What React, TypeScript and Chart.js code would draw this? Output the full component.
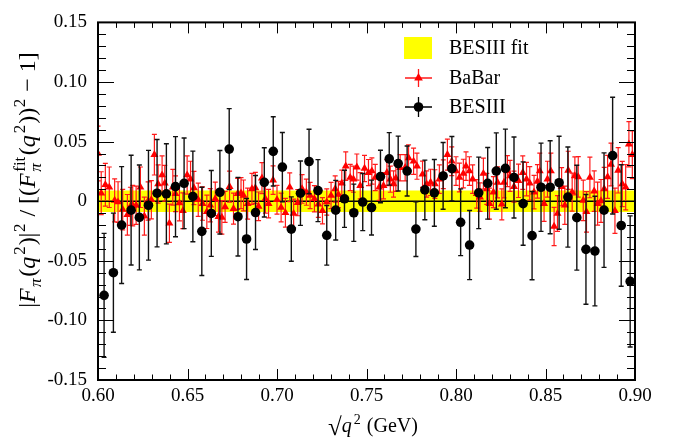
import React, { useEffect, useRef } from "react";
import { Chart, registerables } from "chart.js";

Chart.register(...registerables);

const SERIF = "'Liberation Serif', 'Times New Roman', serif";

// ---------- axis ----------
const xMin = 0.6;
const xMax = 0.9;
const yMin = -0.15;
const yMax = 0.15;
const xTickLabels = ["0.60", "0.65", "0.70", "0.75", "0.80", "0.85", "0.90"];
const yTickLabels = ["-0.15", "-0.10", "-0.05", "0", "0.05", "0.10", "0.15"];

// ---------- BESIII ----------
const besX = [
  0.6034, 0.6086, 0.6132, 0.6185, 0.6231, 0.6282, 0.633, 0.6382, 0.6433, 0.6481,
  0.653, 0.658, 0.6633, 0.6681, 0.6733, 0.6782, 0.683, 0.688, 0.6929, 0.6979,
  0.703, 0.708, 0.7131, 0.7179, 0.7229, 0.7278, 0.7328, 0.7377, 0.7429, 0.7479,
  0.7528, 0.7578, 0.7627, 0.7677, 0.7727, 0.7776, 0.7826, 0.7879, 0.7928, 0.7977,
  0.8026, 0.8076, 0.8127, 0.8177, 0.8225, 0.8276, 0.8324, 0.8375, 0.8425, 0.8475,
  0.8526, 0.8576, 0.8625, 0.8675, 0.8726, 0.8776, 0.8827, 0.8875, 0.8923, 0.8973,
];
const besY = [
  -0.079, -0.06, -0.02, -0.0075, -0.0136, -0.0034, 0.0067, 0.0062, 0.0122, 0.015,
  0.004, -0.0253, -0.0103, 0.0075, 0.0437, -0.013, -0.0317, -0.0095, 0.0158, 0.0418,
  0.0286, -0.0234, 0.0067, 0.0333, 0.0089, -0.0286, -0.0075, 0.002, -0.0097, -0.0007,
  -0.0053, 0.0207, 0.0355, 0.0316, 0.0253, -0.0234, 0.0095, 0.007, 0.0212, 0.0273,
  -0.0177, -0.0368, 0.007, 0.015, 0.0253, 0.0275, 0.0199, -0.002, -0.0289, 0.0117,
  0.0117, 0.0155, 0.0035, -0.0138, -0.0404, -0.0418, -0.0075, 0.0382, -0.0204, -0.0673,
];
const besErr = [
  0.052, 0.05, 0.049, 0.046, 0.044, 0.046, 0.045, 0.042, 0.042, 0.038,
  0.038, 0.037, 0.036, 0.035, 0.034, 0.033, 0.034, 0.031, 0.029, 0.029,
  0.029, 0.027, 0.027, 0.027, 0.026, 0.025, 0.025, 0.024, 0.024, 0.024,
  0.023, 0.022, 0.022, 0.023, 0.021, 0.023, 0.025, 0.028, 0.028, 0.027,
  0.028, 0.029, 0.03, 0.03, 0.032, 0.033, 0.034, 0.035, 0.037, 0.037,
  0.039, 0.039, 0.042, 0.044, 0.046, 0.046, 0.048, 0.049, 0.051, 0.055,
];

// ---------- BaBar ----------
const babarX = [
  0.6, 0.6018, 0.6041, 0.6063, 0.6093, 0.6112, 0.6138, 0.6164, 0.6181, 0.6194,
  0.6213, 0.6237, 0.6259, 0.628, 0.6298, 0.6315, 0.6336, 0.6358, 0.6373, 0.6399,
  0.6418, 0.6433, 0.6455, 0.6474, 0.6498, 0.6517, 0.6536, 0.656, 0.6584, 0.6608,
  0.6627, 0.6655, 0.6673, 0.6692, 0.671, 0.6735, 0.6757, 0.678, 0.6799, 0.6813,
  0.6836, 0.686, 0.6879, 0.6897, 0.6916, 0.6935, 0.6953, 0.6978, 0.7, 0.7023,
  0.7047, 0.7071, 0.7093, 0.7116, 0.714, 0.7164, 0.7185, 0.7209, 0.7231, 0.7254,
  0.7278, 0.7302, 0.7325, 0.7343, 0.7362, 0.7384, 0.7409, 0.7427, 0.7446, 0.7465,
  0.7489, 0.7511, 0.753, 0.7549, 0.7571, 0.7595, 0.7614, 0.7633, 0.7651, 0.7664,
  0.7688, 0.7716, 0.7735, 0.7763, 0.7782, 0.7813, 0.7836, 0.7858, 0.7882, 0.7907,
  0.7929, 0.7952, 0.7976, 0.8, 0.8019, 0.8041, 0.8056, 0.8075, 0.8093, 0.8116,
  0.8134, 0.8153, 0.8172, 0.8187, 0.8209, 0.8232, 0.8256, 0.8268, 0.8287, 0.8302,
  0.8324, 0.8349, 0.8373, 0.8394, 0.8412, 0.8436, 0.8455, 0.8468, 0.8492, 0.8511,
  0.853, 0.8548, 0.8567, 0.859, 0.8608, 0.8627, 0.8649, 0.8664, 0.8683, 0.8711,
  0.8729, 0.8748, 0.8772, 0.8791, 0.881, 0.8828, 0.8847, 0.8866, 0.8888, 0.8906,
  0.8929, 0.8948, 0.8966, 0.8985,
];
const babarY = [
  0.04, 0.0067, 0.0138, 0.0117, 0.0007, -0.0007, -0.007, -0.0114, -0.0043, -0.0037,
  -0.0034, 0.0117, -0.0125, 0.0002, 0.0012, 0.039, 0.0144, 0.022, 0.015, -0.0185,
  0.0117, 0.0062, -0.0015, -0.008, 0.022, 0.0185, 0.0111, 0.0012, -0.002, -0.0089,
  -0.0034, 0.002, -0.013, -0.0136, -0.0048, 0.0122, -0.0062, 0.0062, 0.0067, 0.0048,
  -0.002, 0.0103, 0.0111, -0.0043, 0.0193, 0.002, -0.002, 0.0177, 0.0012, -0.0053,
  -0.0097, 0.0117, -0.0103, -0.0012, 0.0103, 0.0076, 0.0048, 0.002, -0.0026, -0.008,
  -0.0007, 0.0048, 0.0103, 0.0056, 0.015, 0.0294, 0.0199, 0.0185, 0.0286, 0.013,
  0.0275, 0.024, 0.0253, 0.0199, 0.0117, 0.013, 0.024, 0.0185, 0.0144, 0.0193,
  0.0281, 0.0281, 0.0363, 0.0335, 0.0294, 0.0226, 0.0144, 0.0158, 0.0144, 0.0185,
  0.0226, 0.039, 0.0335, 0.0253, 0.0199, 0.0232, 0.0294, 0.0253, 0.0185, 0.0062,
  0.0034, 0.0232, 0.0103, -0.002, 0.0076, 0.0158, -0.0026, 0.0158, 0.0253, 0.0212,
  0.0122, 0.0171, 0.024, 0.0185, 0.015, 0.0076, 0.0166, 0.0253, -0.002, 0.0185,
  0.0253, -0.0212, -0.0103, 0.0122, -0.0034, 0.0259, 0.0076, 0.0212, 0.0204, 0.0007,
  -0.0089, 0.0199, 0.0084, -0.002, 0.0002, 0.0103, 0.0204, 0.0308, -0.008, 0.0259,
  0.0144, 0.0117, 0.0478, 0.039,
];
const babarErr = [
  0.023, 0.018, 0.018, 0.017, 0.018, 0.017, 0.017, 0.017, 0.016, 0.017,
  0.016, 0.017, 0.016, 0.016, 0.016, 0.017, 0.016, 0.016, 0.015, 0.016,
  0.015, 0.015, 0.015, 0.015, 0.016, 0.015, 0.014, 0.014, 0.014, 0.014,
  0.014, 0.014, 0.013, 0.014, 0.013, 0.013, 0.013, 0.013, 0.013, 0.013,
  0.013, 0.013, 0.013, 0.012, 0.013, 0.012, 0.012, 0.012, 0.012, 0.012,
  0.012, 0.012, 0.012, 0.011, 0.012, 0.011, 0.011, 0.011, 0.011, 0.011,
  0.011, 0.011, 0.011, 0.011, 0.011, 0.012, 0.011, 0.011, 0.011, 0.011,
  0.011, 0.011, 0.011, 0.011, 0.011, 0.011, 0.011, 0.011, 0.011, 0.011,
  0.011, 0.011, 0.011, 0.011, 0.011, 0.011, 0.011, 0.011, 0.012, 0.012,
  0.012, 0.013, 0.012, 0.012, 0.012, 0.012, 0.012, 0.012, 0.012, 0.012,
  0.012, 0.013, 0.013, 0.013, 0.013, 0.013, 0.013, 0.013, 0.013, 0.013,
  0.013, 0.014, 0.014, 0.014, 0.014, 0.014, 0.014, 0.015, 0.015, 0.015,
  0.015, 0.016, 0.015, 0.016, 0.016, 0.016, 0.016, 0.016, 0.017, 0.017,
  0.017, 0.017, 0.017, 0.018, 0.018, 0.018, 0.018, 0.018, 0.019, 0.019,
  0.019, 0.019, 0.019, 0.02,
];

// ---------- BESIII fit band ----------
const fitX = [0.6, 0.9];
const fitCentral = [0, 0];
const fitHalfWidth = [0.009, 0.009];

const legendLabels = ["BESIII fit", "BaBar", "BESIII"];

// ---------- math text helper ----------
type Seg = { t: string; it?: boolean; sc?: "sub" | "sup" | "subsup"; t2?: string; big?: number; over?: boolean };

function fontOf(size: number, it?: boolean) {
  return `${it ? "italic " : ""}${size}px ${SERIF}`;
}

function drawMath(ctx: CanvasRenderingContext2D, segs: Seg[], cx: number, cy: number, size: number, rotate: boolean) {
  const small = Math.round(size * 0.7);
  const widths = segs.map((s) => {
    if (s.sc === "subsup") {
      ctx.font = fontOf(small, s.it);
      const w1 = ctx.measureText(s.t).width;
      ctx.font = fontOf(small, false);
      const w2 = ctx.measureText(s.t2 || "").width;
      return Math.max(w1, w2) + 1.5;
    }
    if (s.sc) {
      ctx.font = fontOf(small, s.it);
      return ctx.measureText(s.t).width + 1.5;
    }
    ctx.font = fontOf(s.big || size, s.it);
    return ctx.measureText(s.t).width + (s.it ? 1.5 : 0);
  });
  const total = widths.reduce((a, b) => a + b, 0);
  ctx.save();
  ctx.translate(cx, cy);
  if (rotate) ctx.rotate(-Math.PI / 2);
  ctx.fillStyle = "#000";
  ctx.strokeStyle = "#000";
  ctx.textAlign = "left";
  ctx.textBaseline = "alphabetic";
  const base = size * 0.32;
  let p = -total / 2;
  let overStart = -1;
  segs.forEach((s, i) => {
    if (s.sc === "subsup") {
      ctx.font = fontOf(small, s.it);
      ctx.fillText(s.t, p, base + size * 0.25);
      ctx.font = fontOf(small, false);
      ctx.fillText(s.t2 || "", p, base - size * 0.42);
    } else if (s.sc === "sup") {
      ctx.font = fontOf(small, s.it);
      ctx.fillText(s.t, p + 0.5, base - size * 0.4);
    } else if (s.sc === "sub") {
      ctx.font = fontOf(small, s.it);
      ctx.fillText(s.t, p, base + size * 0.25);
    } else {
      ctx.font = fontOf(s.big || size, s.it);
      ctx.fillText(s.t, p, base + (s.big ? size * 0.12 : 0));
    }
    if (s.over && overStart < 0) overStart = p;
    if (!s.over && overStart >= 0) {
      ctx.lineWidth = 1;
      ctx.beginPath();
      ctx.moveTo(overStart - 1.5, base - size * 1.0);
      ctx.lineTo(p, base - size * 1.0);
      ctx.stroke();
      overStart = -1;
    }
    p += widths[i];
  });
  ctx.restore();
}

const yTitle: Seg[] = [
  { t: "|" }, { t: "F", it: true }, { t: "π", it: true, sc: "sub" }, { t: "(" }, { t: "q", it: true },
  { t: "2", sc: "sup" }, { t: ")|" }, { t: "2", sc: "sup" }, { t: " / [(" }, { t: "F", it: true },
  { t: "π", it: true, sc: "subsup", t2: "fit" }, { t: "(" }, { t: "q", it: true }, { t: "2", sc: "sup" },
  { t: "))" }, { t: "2", sc: "sup" }, { t: " − 1]" },
];
const xTitle: Seg[] = [
  { t: "√", big: 25 }, { t: "q", it: true, over: true }, { t: "2", sc: "sup", over: true }, { t: " (GeV)" },
];

// ---------- plugin: error bars, frame, ticks, legend, titles ----------
const rootPlugin = {
  id: "rootStyle",
  beforeDatasetDraw(chart: any, args: any) {
    let xs: number[], ys: number[], es: number[], color: string, cap: number, lw: number;
    if (args.index === 0) {
      xs = besX; ys = besY; es = besErr; color = "#111"; cap = 2.5; lw = 1.4;
    } else if (args.index === 1) {
      xs = babarX; ys = babarY; es = babarErr; color = "#ff1a1a"; cap = 2.5; lw = 1.2;
    } else return;
    const { ctx, chartArea: a } = chart;
    const sx = chart.scales.x;
    const sy = chart.scales.y;
    ctx.save();
    ctx.beginPath();
    ctx.rect(a.left, a.top, a.right - a.left, a.bottom - a.top);
    ctx.clip();
    ctx.strokeStyle = color;
    ctx.lineWidth = lw;
    ctx.beginPath();
    for (let i = 0; i < xs.length; i++) {
      const px = sx.getPixelForValue(xs[i]);
      const y1 = sy.getPixelForValue(ys[i] + es[i]);
      const y2 = sy.getPixelForValue(ys[i] - es[i]);
      ctx.moveTo(px, y1); ctx.lineTo(px, y2);
      ctx.moveTo(px - cap, y1); ctx.lineTo(px + cap, y1);
      ctx.moveTo(px - cap, y2); ctx.lineTo(px + cap, y2);
    }
    ctx.stroke();
    ctx.restore();
  },
  afterDraw(chart: any) {
    const { ctx, chartArea: a } = chart;
    const sx = chart.scales.x;
    const sy = chart.scales.y;
    ctx.save();
    // frame
    ctx.strokeStyle = "#000";
    ctx.lineWidth = 2;
    ctx.strokeRect(a.left, a.top, a.right - a.left, a.bottom - a.top);
    // ticks
    ctx.lineWidth = 1;
    ctx.beginPath();
    for (let k = 0; k <= 30; k++) {
      const v = xMin + k * 0.01;
      const px = Math.round(sx.getPixelForValue(v)) + 0.5;
      const len = k % 5 === 0 ? 11 : 5.5;
      ctx.moveTo(px, a.bottom); ctx.lineTo(px, a.bottom - len);
      ctx.moveTo(px, a.top); ctx.lineTo(px, a.top + len);
    }
    for (let k = 0; k <= 30; k++) {
      const v = yMin + k * 0.01;
      const py = Math.round(sy.getPixelForValue(v)) + 0.5;
      const len = k % 5 === 0 ? 16 : 8;
      ctx.moveTo(a.left, py); ctx.lineTo(a.left + len, py);
      ctx.moveTo(a.right, py); ctx.lineTo(a.right - len, py);
    }
    ctx.stroke();

    // legend
    const lx0 = 405, lx1 = 432, lxc = 418.5, tx = 449;
    const rows = [48, 78, 107];
    ctx.fillStyle = "#ffff00";
    ctx.fillRect(404, 37, 28, 22);
    // BaBar
    ctx.strokeStyle = "#ff1a1a";
    ctx.lineWidth = 1.3;
    ctx.beginPath();
    ctx.moveTo(lx0, rows[1]); ctx.lineTo(lx1, rows[1]);
    ctx.moveTo(lxc, rows[1] - 9); ctx.lineTo(lxc, rows[1] + 9);
    ctx.stroke();
    ctx.fillStyle = "#ff0000";
    const r = 5;
    ctx.beginPath();
    ctx.moveTo(lxc, rows[1] - r);
    ctx.lineTo(lxc + 0.866 * r, rows[1] + 0.5 * r);
    ctx.lineTo(lxc - 0.866 * r, rows[1] + 0.5 * r);
    ctx.closePath();
    ctx.fill();
    // BESIII
    ctx.strokeStyle = "#000";
    ctx.beginPath();
    ctx.moveTo(lx0, rows[2]); ctx.lineTo(lx1, rows[2]);
    ctx.moveTo(lxc, rows[2] - 10); ctx.lineTo(lxc, rows[2] + 10);
    ctx.stroke();
    ctx.fillStyle = "#000";
    ctx.beginPath();
    ctx.arc(lxc, rows[2], 4.8, 0, Math.PI * 2);
    ctx.fill();
    ctx.font = `20px ${SERIF}`;
    ctx.textBaseline = "middle";
    ctx.textAlign = "left";
    legendLabels.forEach((lab, i) => ctx.fillText(lab, tx, rows[i] + 1));
    ctx.restore();

    // axis titles
    drawMath(ctx, yTitle, 27, 180, 24, true);
    drawMath(ctx, xTitle, 373, 426, 20, false);
  },
};

export default function App() {
  const ref = useRef<HTMLCanvasElement | null>(null);
  useEffect(() => {
    if (!ref.current) return;
    const pts = (xs: number[], ys: number[]) => xs.map((x, i) => ({ x, y: ys[i] }));
    const chart = new Chart(ref.current, {
      type: "scatter",
      data: {
        datasets: [
          {
            label: "BESIII",
            data: pts(besX, besY),
            pointStyle: "circle",
            pointRadius: 4.8,
            backgroundColor: "#000",
            borderColor: "#000",
            borderWidth: 0,
            order: 0,
          },
          {
            label: "BaBar",
            data: pts(babarX, babarY),
            pointStyle: "triangle",
            pointRadius: 4.6,
            backgroundColor: "#ff0000",
            borderColor: "#ff0000",
            borderWidth: 0,
            order: 1,
          },
          {
            type: "line",
            label: "fit",
            data: pts(fitX, fitCentral),
            borderColor: "#000",
            borderWidth: 1.5,
            pointRadius: 0,
            fill: false,
            order: 2,
          },
          {
            type: "line",
            label: "BESIII fit",
            data: pts(fitX, fitHalfWidth),
            borderWidth: 0,
            borderColor: "rgba(0,0,0,0)",
            backgroundColor: "#ffff00",
            pointRadius: 0,
            fill: { value: -fitHalfWidth[0] },
            order: 3,
          },
        ] as any,
      },
      options: {
        animation: false,
        responsive: false,
        devicePixelRatio: 1,
        layout: { padding: { top: 15, right: 45, left: 0, bottom: 0 } },
        plugins: { legend: { display: false }, tooltip: { enabled: false } },
        scales: {
          x: {
            type: "linear",
            min: xMin,
            max: xMax,
            grid: { display: false, drawTicks: false },
            border: { display: false },
            ticks: {
              stepSize: 0.05,
              padding: 5,
              color: "#000",
              maxRotation: 0,
              font: { family: SERIF, size: 19 },
              callback: (_v: any, i: number) => xTickLabels[i],
            },
            afterFit: (s: any) => { s.height = 60; },
          },
          y: {
            type: "linear",
            min: yMin,
            max: yMax,
            grid: { display: false, drawTicks: false },
            border: { display: false },
            ticks: {
              stepSize: 0.05,
              padding: 11,
              color: "#000",
              font: { family: SERIF, size: 19 },
              callback: (_v: any, i: number) => yTickLabels[i],
            },
            afterFit: (s: any) => { s.width = 98; },
          },
        },
      } as any,
      plugins: [rootPlugin],
    });
    return () => chart.destroy();
  }, []);
  return (
    <div style={{ position: "absolute", left: 0, top: 0, width: 680, height: 440, background: "#fff" }}>
      <canvas ref={ref} width={680} height={440} style={{ width: 680, height: 440 }} />
    </div>
  );
}
